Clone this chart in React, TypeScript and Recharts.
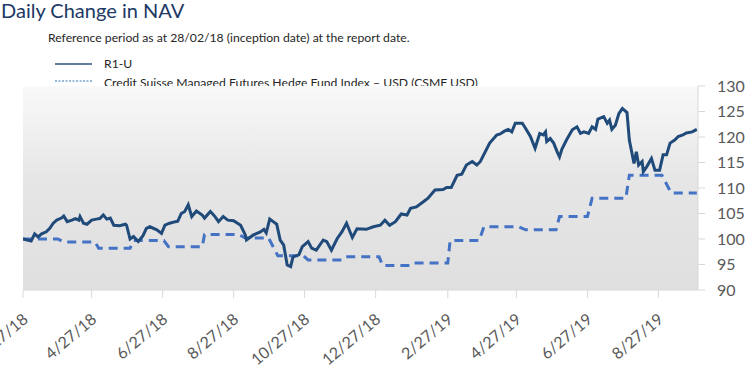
import React from 'react';
import { LineChart, Line, XAxis, YAxis, CartesianGrid } from 'recharts';

// x values are days counted from 27 Feb 2018
const r1Days = [
  0, 7, 10, 13, 16, 20, 23, 26, 29, 33, 35, 38, 42, 45, 48, 49, 52, 55, 59, 63,
  66, 69, 72, 75, 78, 83, 88, 89, 92, 95, 99, 103, 106, 109, 115, 119, 122, 126, 131, 133,
  136, 139, 142, 145, 149, 154, 156, 161, 165, 168, 172, 176, 181, 187, 191, 192, 198, 204, 207, 209,
  212, 215, 218, 221, 224, 227, 230, 232, 237, 240, 245, 248, 252, 258, 261, 265, 270, 274, 278, 283,
  287, 295, 301, 307, 311, 315, 320, 325, 330, 333, 338, 344, 348, 354, 361, 364, 368, 373, 377, 381,
  386, 390, 393, 401, 407, 410, 414, 417, 420, 423, 429, 431, 436, 440, 444, 447, 449, 450, 453, 456,
  459, 461, 463, 467, 472, 476, 479, 482, 486, 489, 492, 494, 499, 502, 504, 506, 509, 512, 515, 519,
  521, 525, 527, 529, 532, 533, 536, 540, 543, 547, 550, 553, 556, 560, 563, 567, 570, 575, 579,
];
const r1Values = [
  100.0, 99.6, 101.0, 100.4, 101.0, 101.4, 102.1, 103.1, 103.7, 104.1, 104.5, 103.4, 103.7, 104.0, 103.7, 104.4, 103.1, 102.9, 103.7, 103.9,
  104.0, 104.7, 103.9, 104.1, 102.7, 102.6, 102.9, 102.7, 100.0, 100.5, 99.5, 100.6, 102.1, 102.4, 101.8, 101.1, 102.7, 103.1, 103.4, 103.5,
  105.0, 105.4, 106.7, 104.4, 105.5, 104.7, 104.1, 105.4, 104.4, 103.4, 104.4, 103.7, 103.6, 102.7, 100.8, 99.8, 100.8, 101.4, 101.9, 101.2,
  103.9, 103.4, 102.9, 99.8, 98.8, 94.9, 94.6, 96.5, 96.9, 98.5, 99.5, 98.2, 97.8, 99.8, 99.5, 97.8, 100.1, 101.4, 103.1, 100.3,
  102.0, 101.9, 102.4, 102.7, 103.7, 102.7, 103.4, 104.9, 104.7, 106.0, 106.3, 107.3, 108.0, 109.6, 109.7, 110.1, 110.1, 112.5, 112.7, 114.5,
  115.2, 114.5, 115.2, 118.8, 120.4, 120.6, 121.2, 121.5, 121.0, 122.7, 122.7, 122.0, 120.1, 117.8, 120.7, 120.4, 121.0, 119.1, 119.7, 118.8,
  117.1, 116.1, 117.6, 119.4, 121.4, 122.0, 120.7, 121.0, 120.7, 122.0, 121.5, 123.5, 124.0, 122.7, 123.3, 121.5, 122.3, 124.6, 125.6, 124.8,
  119.4, 114.8, 117.1, 114.5, 115.2, 113.2, 114.2, 115.8, 113.5, 113.5, 116.5, 116.5, 118.8, 119.4, 120.1, 120.4, 120.8, 121.0, 121.5,
];

const csmfDays = [
  0, 30, 35, 62, 65, 92, 95, 121, 125, 154, 156, 185, 191, 211, 219, 241, 245, 274, 277, 306,
  309, 333, 336, 365, 367, 392, 396, 426, 432, 458, 461, 485, 489, 518, 521, 549, 557, 579,
];
const csmfValues = [
  100.0, 100.0, 99.4, 99.4, 98.2, 98.2, 99.7, 99.7, 98.5, 98.5, 100.9, 100.9, 100.2, 100.2, 96.7, 96.7, 95.9, 95.9, 96.5, 96.5,
  94.8, 94.8, 95.3, 95.3, 99.7, 99.7, 102.4, 102.4, 101.8, 101.8, 104.4, 104.4, 108.0, 108.0, 112.5, 112.5, 109.0, 109.0,
];

const xTickDays = [0, 59, 120, 181, 242, 303, 365, 424, 485, 546];
const xTickLabels = ['2/27/18', '4/27/18', '6/27/18', '8/27/18', '10/27/18', '12/27/18', '2/27/19', '4/27/19', '6/27/19', '8/27/19'];
const yTicks = [90, 95, 100, 105, 110, 115, 120, 125, 130];

const r1Data = r1Days.map((day, i) => ({ day, value: r1Values[i] }));
const csmfData = csmfDays.map((day, i) => ({ day, value: csmfValues[i] }));

const FONT = 'Lato, sans-serif';

const DateTick = (props: any) => {
  const { x, y, payload } = props;
  const label = xTickLabels[xTickDays.indexOf(payload.value)];
  const ax = x + 6;
  const ay = y + 21;
  return (
    <text
      x={ax}
      y={ay}
      transform={`rotate(-40 ${ax} ${ay})`}
      textAnchor="end"
      fill="#595959"
      fontSize={16}
      fontFamily={FONT}
    >
      {label}
    </text>
  );
};

const App: React.FC = () => {
  return (
    <div style={{ position: 'absolute', left: 0, top: 0, width: 752, height: 368, background: '#fff', fontFamily: FONT }}>
      <div style={{ position: 'absolute', left: 1, top: 0, fontSize: 20, lineHeight: '20px', color: '#203864', whiteSpace: 'nowrap' }}>
        Daily Change in NAV
      </div>
      <div style={{ position: 'absolute', left: 48, top: 32, fontSize: 12.2, lineHeight: '12px', color: '#262626', whiteSpace: 'nowrap' }}>
        Reference period as at 28/02/18 (inception date) at the report date.
      </div>
      <svg style={{ position: 'absolute', left: 0, top: 0 }} width={100} height={90}>
        <line x1={55} y1={64} x2={92} y2={64} stroke="#2f5283" strokeWidth={1.5} />
        <line x1={55} y1={81} x2={92} y2={81} stroke="#2e75b6" strokeWidth={1} strokeDasharray="2 1.5" />
      </svg>
      <div style={{ position: 'absolute', left: 104, top: 58, fontSize: 12.2, lineHeight: '12px', color: '#262626', whiteSpace: 'nowrap' }}>
        R1-U
      </div>
      <div style={{ position: 'absolute', left: 104, top: 77, fontSize: 12.2, lineHeight: '12px', color: '#262626', whiteSpace: 'nowrap' }}>
        Credit Suisse Managed Futures Hedge Fund Index – USD (CSMF USD)
      </div>
      <div style={{ position: 'absolute', left: 0, top: 0 }}>
        <LineChart width={752} height={368} margin={{ top: 86, right: 0, left: 23, bottom: 18 }}>
          <defs>
            <linearGradient id="plotBg" x1="0" y1="0" x2="0" y2="1">
              <stop offset="0" stopColor="#f9f9f9" />
              <stop offset="0.45" stopColor="#e6e6e6" />
              <stop offset="1" stopColor="#dfdfdf" />
            </linearGradient>
          </defs>
          <CartesianGrid horizontal={false} vertical={false} fill="url(#plotBg)" fillOpacity={1} />
          <XAxis
            type="number"
            dataKey="day"
            domain={[0, 580]}
            ticks={xTickDays}
            interval={0}
            allowDataOverflow
            height={60}
            tickSize={8}
            tickMargin={2}
            axisLine={{ stroke: '#d9d9d9' }}
            tickLine={{ stroke: '#d9d9d9' }}
            tick={<DateTick />}
          />
          <YAxis
            orientation="right"
            domain={[90, 130]}
            ticks={yTicks}
            interval={0}
            width={54}
            tickSize={7}
            tickMargin={12}
            axisLine={{ stroke: '#d9d9d9' }}
            tickLine={{ stroke: '#d9d9d9' }}
            tick={{ fill: '#595959', fontSize: 16, fontFamily: FONT }}
          />
          <Line
            data={csmfData}
            dataKey="value"
            type="linear"
            stroke="#4472c4"
            strokeWidth={3}
            strokeDasharray="9 6"
            dot={false}
            isAnimationActive={false}
          />
          <Line
            data={r1Data}
            dataKey="value"
            type="linear"
            stroke="#1f4a7a"
            strokeWidth={3}
            dot={false}
            isAnimationActive={false}
          />
        </LineChart>
      </div>
    </div>
  );
};

export default App;
